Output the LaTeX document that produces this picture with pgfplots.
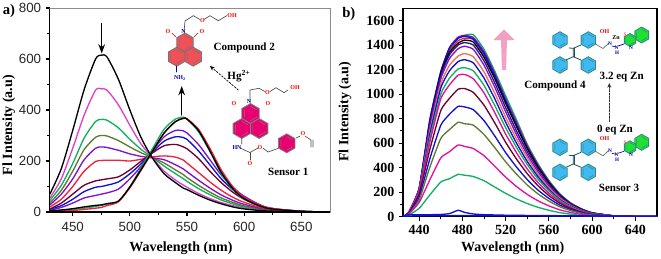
\documentclass[border=0pt]{standalone}
\usepackage{pgfplots}
\usepackage{pgfplotstable}
\pgfplotsset{compat=1.18}
\usepackage{fontspec}
\setmainfont{Liberation Serif}
\newfontfamily\arial{Liberation Sans}
\usetikzlibrary{arrows.meta}
\definecolor{cMag}{HTML}{E040C8}
\definecolor{cGrn}{HTML}{10B060}
\definecolor{cOli}{HTML}{607830}
\definecolor{cPur}{HTML}{8010D0}
\definecolor{cRed}{HTML}{F02040}
\definecolor{cMar}{HTML}{700030}
\definecolor{cBlu}{HTML}{1010D0}
\definecolor{cOra}{HTML}{F07050}
\definecolor{cNav}{HTML}{301090}
\definecolor{cMg2}{HTML}{E010A0}
\definecolor{cRin}{HTML}{F05058}
\definecolor{cRi2}{HTML}{E80070}
\definecolor{cCya}{HTML}{40B8F0}
\definecolor{cTea}{HTML}{308888}
\definecolor{cLim}{HTML}{20E030}
\definecolor{cPin}{HTML}{F4A0C4}
\pgfplotstableread{
w k1 m g o p r ma b v r2 g2 k2
430 70 55 45 35 28 20 12 10 7 2 3 5
440 170 130 105 85 70 50 35 25 18 4 6 8
450 320 250 190 160 130 100 70 50 35 6 10 13
460 480 380 290 245 205 160 105 80 55 10 15 20
470 600 478 355 293 250 198 122 97 65 15 22 26
475 615 483 363 300 255 202 126 100 70 18 26 28
480 608 478 360 298 253 203 130 105 75 25 30 33
490 520 420 330 280 242 203 138 118 90 40 42 43
500 400 340 285 255 228 200 165 150 130 95 100 98
510 290 265 245 232 218 207 200 190 180 165 175 168
520 210 212 213 213 212 216 232 235 240 238 250 240
530 150 160 180 192 205 220 260 278 295 310 325 310
540 115 125 150 165 185 215 265 295 320 355 365 355
547 93 105 130 146 168 203 255 292 318 368 372 367
550 88 97 120 135 158 192 248 285 310 366 365 364
560 66 73 92 105 125 155 210 240 265 325 315 320
570 47 53 68 78 94 118 160 185 205 250 238 240
580 32 37 47 55 67 85 115 130 145 165 150 155
590 20 25 32 38 46 58 78 88 98 100 90 92
600 12 16 20 24 30 38 50 56 62 57 50 52
620 4 5 7 8 10 12 15 17 18 18 15 15
650 1 1 1 1 2 2 2 3 3 3 3 3
675 0 0 0 0 0 0 0 0 0 0 0 0
}\tabA
\pgfplotstableread{
w z0 z1 a b c d e f g h i j k l n o q r
425 10 0 0 0 0 0 0 0 0 0 0 0 0 0 0 0 0 0
430 15 5 10 18 19 23 26 29 27 28 29 30 30 29 29 30 29 29
440 16 8 69 117 139 162 188 209 206 217 220 225 227 225 225 235 235 225
450 16 8 179 304 408 477 554 615 645 679 705 740 765 770 780 800 795 780
460 18 8 283 480 639 747 867 963 1000 1050 1085 1125 1150 1170 1150 1185 1180 1150
468 25 8 310 530 710 835 965 1075 1130 1190 1235 1290 1320 1340 1350 1375 1380 1360
476 52 9 345 585 770 900 1040 1155 1205 1265 1310 1370 1400 1415 1435 1455 1465 1455
482 35 9 338 573 758 895 1045 1160 1215 1280 1330 1390 1420 1440 1455 1470 1478 1480
490 22 8 328 556 747 873 1014 1125 1190 1255 1305 1365 1400 1425 1445 1450 1462 1485
500 16 8 293 497 670 783 909 1009 1070 1130 1180 1235 1270 1300 1320 1330 1345 1365
510 14 8 241 410 562 657 763 847 905 960 1005 1055 1090 1125 1145 1150 1165 1185
520 12 8 190 322 447 522 606 673 725 770 810 855 890 925 945 945 960 985
530 11 7 145 246 347 405 470 522 565 600 635 670 700 735 755 750 770 790
540 10 7 107 181 258 302 350 389 425 450 480 505 530 555 570 565 578 590
550 9 7 76 129 185 216 251 278 305 325 345 365 385 405 415 410 420 430
560 9 6 52 88 127 149 172 191 210 222 235 250 265 278 285 280 288 295
570 8 6 33 56 81 95 110 122 133 140 150 160 168 175 180 178 182 188
580 8 5 21 35 50 59 68 75 82 87 92 97 100 105 108 105 110 113
590 7 5 10 18 27 32 37 41 45 48 50 53 56 60 62 60 62 65
600 6 5 5 9 13 15 18 20 22 24 25 27 28 30 31 30 31 32
620 5 4 1 2 2 3 3 3 5 5 5 6 6 6 7 6 7 7
640 4 4 0 0 0 0 1 1 1 1 1 1 1 1 1 1 1 1
660 4 4 0 0 0 0 0 0 0 0 0 0 0 0 0 0 0 0
}\tabB
\newcommand\hex[5]{\draw[shift={(#1,#2)},fill=#4,draw=#5,line width=.6pt] (90:#3)--(30:#3)--(-30:#3)--(-90:#3)--(-150:#3)--(150:#3)--cycle;
\draw[shift={(#1,#2)},scale=.72,draw=#5,line width=.35pt] (90:#3)--(30:#3) (-30:#3)--(-90:#3) (-150:#3)--(150:#3);}
\begin{document}
\begin{tikzpicture}
\path[use as bounding box] (0,0) rectangle (495.75pt,193.5pt);
\begin{axis}[
 name=A, at={(37.4pt,34.5pt)}, anchor=south west, scale only axis, width=210pt, height=153pt,
 xmin=430,xmax=675,ymin=0,ymax=800,
 xtick={450,500,550,600,650}, minor x tick num=1,
 ytick={0,200,400,600,800}, minor y tick num=1,
 tick align=outside, major tick length=3pt, minor tick length=2pt,
 ytick pos=left, xtick pos=bottom,
 axis line style={draw=none},
 tick style={black,line width=.8pt},
 tick label style={font=\arial\fontsize{10}{10}\selectfont,text=black!85},
 /pgf/number format/assume math mode=true,
 xticklabel style={yshift=-1pt},
 xlabel={Wavelength (nm)}, ylabel={Fl Intensity (a.u)},
 every axis x label/.style={at={(axis description cs:.468,-.176)},anchor=center,font=\bfseries\fontsize{10.5}{10.5}\selectfont},
 every axis y label/.style={at={(axis description cs:-.147,.426)},anchor=center,rotate=90,font=\bfseries\fontsize{10.5}{10.5}\selectfont},
 no markers, cycle list={}, every axis plot/.append style={line width=1pt,smooth,tension=.45},
]
\addplot[cMag] table[x=w,y=m]{\tabA};
\addplot[cGrn] table[x=w,y=g]{\tabA};
\addplot[cOli] table[x=w,y=o]{\tabA};
\addplot[cPur] table[x=w,y=p]{\tabA};
\addplot[cRed] table[x=w,y=r]{\tabA};
\addplot[cMar] table[x=w,y=ma]{\tabA};
\addplot[cBlu] table[x=w,y=b]{\tabA};
\addplot[cPur] table[x=w,y=v]{\tabA};
\addplot[cGrn] table[x=w,y=g2]{\tabA};
\addplot[cRed] table[x=w,y=r2]{\tabA};
\addplot[black] table[x=w,y=k2]{\tabA};
\addplot[black] table[x=w,y=k1]{\tabA};
\end{axis}
\begin{axis}[
 name=B, at={(302.25pt,31.0pt)}, anchor=south west, scale only axis, width=190.5pt, height=156.3pt,
 xmin=425,xmax=660,ymin=0,ymax=1700,
 xtick={440,480,520,560,600,640}, minor x tick num=1,
 ytick={0,200,400,600,800,1000,1200,1400,1600}, minor y tick num=1,
 tick align=outside, major tick length=3pt, minor tick length=2pt,
 ytick pos=left, xtick pos=bottom,
 axis line style={line width=1pt,black},
 tick style={black,line width=.8pt},
 tick label style={font=\bfseries\fontsize{10.5}{10.5}\selectfont},
 /pgf/number format/assume math mode=true,
 /pgf/number format/1000 sep={},
 xlabel={Wavelength (nm)}, ylabel={Fl Intensity (a.u)},
 every axis x label/.style={at={(axis description cs:.432,-.15)},anchor=center,font=\bfseries\fontsize{10.5}{10.5}\selectfont},
 every axis y label/.style={at={(axis description cs:-.228,.504)},anchor=center,rotate=90,font=\bfseries\fontsize{10.5}{10.5}\selectfont},
 no markers, cycle list={}, every axis plot/.append style={line width=1pt,smooth,tension=.3},
]
\addplot[cGrn] table[x=w,y=r]{\tabB};
\addplot[cPur] table[x=w,y=q]{\tabB};
\addplot[cRed] table[x=w,y=n]{\tabB};
\addplot[cBlu] table[x=w,y=o]{\tabB};
\addplot[black] table[x=w,y=l]{\tabB};
\addplot[cNav] table[x=w,y=k]{\tabB};
\addplot[cPur] table[x=w,y=j]{\tabB};
\addplot[cOra] table[x=w,y=i]{\tabB};
\addplot[cBlu] table[x=w,y=h]{\tabB};
\addplot[cGrn] table[x=w,y=g]{\tabB};
\addplot[cMg2] table[x=w,y=f]{\tabB};
\addplot[cMar] table[x=w,y=e]{\tabB};
\addplot[cBlu] table[x=w,y=d]{\tabB};
\addplot[cOli] table[x=w,y=c]{\tabB};
\addplot[cMg2] table[x=w,y=b]{\tabB};
\addplot[cGrn] table[x=w,y=a]{\tabB};
\addplot[cBlu] table[x=w,y=z1]{\tabB};
\addplot[cBlu] table[x=w,y=z0]{\tabB};
\end{axis}
\begin{scope}[x=.75pt,y=-.75pt,shift={(0pt,193.5pt)},line cap=round]
% panel a frame
\draw[black,line width=1pt] (49.7,8)--(49.7,212)--(330,212);
\draw[black!45,line width=.6pt] (49.7,8)--(330,8)--(330,212);
\node[font=\bfseries\fontsize{11}{11}\selectfont,anchor=west,inner sep=0pt] at (2.5,11) {a)};
\node[font=\bfseries\fontsize{11}{11}\selectfont,anchor=west,inner sep=0pt] at (342,14) {b)};
% arrows a
\draw[-{Stealth[length=7pt,width=5pt]},line width=1pt] (101.7,23.5)--(101.7,53.5);
\draw[-{Stealth[length=7pt,width=5pt]},line width=1pt] (181.7,115)--(181.7,86);
\draw[-{Stealth[length=3.5pt,width=3pt]},line width=.5pt,dash pattern=on 1.5pt off 1pt] (238.3,90)--(210,66);
\node[font=\bfseries\fontsize{8.3}{8.3}\selectfont,inner sep=0pt] at (239,76) {Hg\textsuperscript{2+}};
\node[font=\bfseries\fontsize{8.3}{8.3}\selectfont,inner sep=0pt] at (244.3,48.3) {Compound 2};
\node[font=\bfseries\fontsize{8.3}{8.3}\selectfont,inner sep=0pt] at (288.3,171.7) {Sensor 1};
% compound 2
\hex{185}{42.5}{9.5}{cRin}{black!55}
\hex{176.7}{56.7}{9.5}{cRin}{black!55}
\hex{193.2}{56.7}{9.5}{cRin}{black!55}
\draw[black!70,line width=.5pt] (184,32)--(185,21)--(193.3,15.7)--(200,19.5) (204,19.5)--(210,15.7)--(218.3,20.7)--(226.7,15.7);
\draw[red!80!black,line width=.5pt] (176,37)--(172,33) (194,37)--(198,33);
\draw[blue!70!black,line width=.5pt] (176.7,66)--(176.7,72);
\node[text=blue!70!black,font=\bfseries\fontsize{4.5}{4.5}\selectfont,inner sep=0pt] at (183.5,32) {N};
\node[text=red,font=\bfseries\fontsize{4.5}{4.5}\selectfont,inner sep=0pt] at (168,32) {O};
\node[text=red,font=\bfseries\fontsize{4.5}{4.5}\selectfont,inner sep=0pt] at (202,32) {O};
\node[text=red,font=\bfseries\fontsize{4.5}{4.5}\selectfont,inner sep=0pt] at (202.5,21) {O};
\node[text=red,font=\bfseries\fontsize{4.5}{4.5}\selectfont,inner sep=0pt] at (232,16) {OH};
\node[text=blue!70!black,font=\bfseries\fontsize{4.5}{4.5}\selectfont,inner sep=0pt] at (180,78) {NH\textsubscript{2}};
% sensor 1
\hex{250.5}{113.5}{10}{cRi2}{black!50}
\hex{241.8}{128.5}{10}{cRi2}{black!50}
\hex{259.2}{128.5}{10}{cRi2}{black!50}
\hex{286.7}{143.3}{9.5}{cRi2}{black!50}
\draw[black!70,line width=.5pt] (250,102)--(250,90)--(259,88.3)--(265,91.5) (270,91.5)--(276,87.7)--(284,92.7)--(288,90);
\draw[black!70,line width=.5pt] (241.8,138.5)--(241.8,144) (240,148)--(250,152.5)--(258,148) (263,148)--(268,152)--(278,148.5);
\draw[black!70,line width=.5pt] (250,152.5)--(250,160);
\draw[black!70,line width=.5pt] (296,138)--(300,136) (305,136)--(311,140)--(311,147) (313,140)--(313,147);
\node[text=blue!70!black,font=\bfseries\fontsize{4.5}{4.5}\selectfont,inner sep=0pt] at (249,102) {N};
\node[text=red,font=\bfseries\fontsize{4.5}{4.5}\selectfont,inner sep=0pt] at (234,104) {O};
\node[text=red,font=\bfseries\fontsize{4.5}{4.5}\selectfont,inner sep=0pt] at (268,104) {O};
\node[text=red,font=\bfseries\fontsize{4.5}{4.5}\selectfont,inner sep=0pt] at (267.5,93) {O};
\node[text=red,font=\bfseries\fontsize{4.5}{4.5}\selectfont,inner sep=0pt] at (295,87.5) {OH};
\node[text=blue!70!black,font=\bfseries\fontsize{4.5}{4.5}\selectfont,inner sep=0pt] at (237,148) {HN};
\node[text=red,font=\bfseries\fontsize{4.5}{4.5}\selectfont,inner sep=0pt] at (260,148) {O};
\node[text=red,font=\bfseries\fontsize{4.5}{4.5}\selectfont,inner sep=0pt] at (250,164) {O};
\node[text=red,font=\bfseries\fontsize{4.5}{4.5}\selectfont,inner sep=0pt] at (303,134) {O};
% pink arrow
\fill[cPin] (504,29.3)--(514.5,40)--(507,40)--(506,70)--(502,70)--(501,40)--(493.5,40)--cycle;
% panel b text
\node[font=\bfseries\fontsize{8.3}{8.3}\selectfont,inner sep=0pt] at (555,85.7) {Compound 4};
\node[font=\bfseries\fontsize{8.3}{8.3}\selectfont,inner sep=0pt] at (621.7,77.3) {3.2 eq Zn};
\node[font=\bfseries\fontsize{8.3}{8.3}\selectfont,inner sep=0pt] at (615,130) {0 eq Zn};
\node[font=\bfseries\fontsize{8.3}{8.3}\selectfont,inner sep=0pt] at (619,188) {Sensor 3};
\draw[-{Stealth[length=3.5pt,width=3pt]},line width=.8pt,dash pattern=on 1.5pt off 1pt,black!80] (609.3,121.7)--(609.3,83);
% two molecules
\foreach \dy in {0,107.3}{
\begin{scope}[yshift=-\dy*.75pt]
\draw[cTea!60!black,line width=.6pt] (569,48)--(573.3,48.3)--(581,45) (573.3,48.3)--(573.3,56.7) (574.5,48.3)--(574.5,56.7) (566,60)--(573.3,56.7)--(581,60);
\hex{560}{40}{8.3}{cCya}{cTea}
\hex{560}{65}{8.3}{cCya}{cTea}
\hex{588.3}{40}{8.3}{cCya}{cTea}
\hex{588.3}{65}{8.3}{cCya}{cTea}
\draw[black!60,line width=.5pt] (595.5,44)--(603,48.5)--(609,43);
\draw[blue!70!black,line width=.5pt] (612,46)--(616,47) (618,46)--(624,44);
\hex{641.7}{35}{8}{cLim}{cTea}
\hex{630}{40}{6.5}{cLim}{cTea}
\node[text=red,font=\bfseries\fontsize{4.5}{4.5}\selectfont,inner sep=0pt] at (604.5,31.7) {OH};
\node[text=blue!70!black,font=\bfseries\fontsize{4}{4}\selectfont,inner sep=0pt] at (610,43.5) {N};
\node[text=blue!70!black,font=\bfseries\fontsize{4}{4}\selectfont,inner sep=0pt] at (616.5,47.5) {N};
\node[text=blue!70!black,font=\bfseries\fontsize{3.8}{3.8}\selectfont,inner sep=0pt] at (617,52.5) {H};
\node[text=blue!70!black,font=\bfseries\fontsize{4}{4}\selectfont,inner sep=0pt] at (631,47.5) {N};
\node[text=red!70,font=\bfseries\fontsize{4}{4}\selectfont,inner sep=0pt] at (625,35) {S};
\end{scope}}
\node[font=\bfseries\fontsize{4.5}{4.5}\selectfont,inner sep=0pt] at (616,37.7) {Zn};
\end{scope}
\end{tikzpicture}
\end{document}
